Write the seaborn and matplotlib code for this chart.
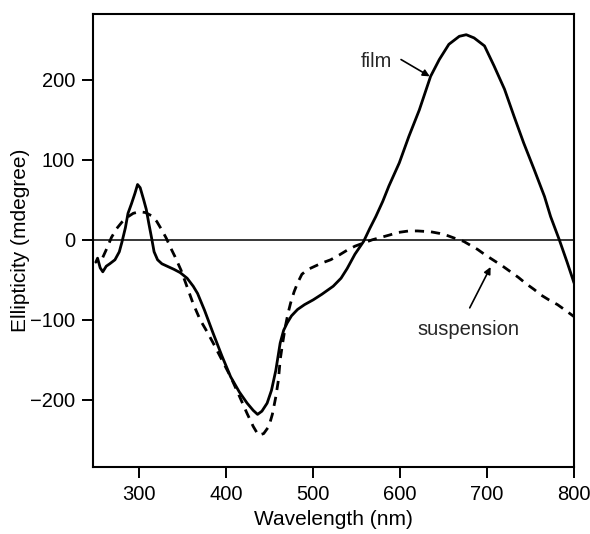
import matplotlib
matplotlib.use("Agg")
import matplotlib.pyplot as plt
import seaborn as sns
import pandas as pd

# CD spectra: ellipticity of the film and of the suspension
film_nm = [250, 252, 255, 258, 262, 266, 272, 277, 280, 284, 287, 291, 295, 298,
           301, 305, 308, 311, 314, 317, 321, 326, 332, 340, 347, 355, 362, 367,
           375, 385, 395, 405, 415, 424, 431, 436, 441, 447, 452, 457, 462, 466,
           470, 475, 482, 490, 500, 510, 523, 532, 539, 548, 558, 565, 572, 580,
           587, 599, 610, 622, 635, 645, 656, 668, 676, 685, 697, 708, 720, 731,
           742, 754, 766, 773, 783, 792, 800]
film_mdeg = [-28, -23, -35, -40, -33, -30, -25, -15, -3, 15, 33, 45, 58, 69,
             65, 50, 38, 20, 3, -15, -25, -30, -33, -37, -41, -48, -58, -67,
             -88, -117, -145, -171, -190, -204, -213, -218, -214, -204, -188, -163, -129, -113,
             -104, -95, -87, -81, -75, -68, -58, -48, -36, -18, -2, 14, 29, 48,
             67, 96, 129, 162, 204, 225, 244, 254, 256, 252, 242, 217, 188, 154,
             121, 88, 54, 29, 0, -28, -54]

susp_nm = [258, 263, 268, 274, 280, 286, 293, 300, 307, 314, 320, 326, 331, 336,
           341, 348, 355, 362, 370, 378, 385, 395, 405, 415, 424, 431, 437, 443,
           449, 453, 457, 460, 462, 465, 468, 471, 474, 478, 482, 487, 494, 500,
           510, 520, 530, 539, 548, 558, 568, 578, 588, 597, 610, 620, 635, 645,
           655, 665, 673, 681, 689, 698, 708, 718, 727, 736, 745, 754, 762, 771,
           781, 790, 800]
susp_mdeg = [-22, -10, 3, 14, 22, 28, 33, 35, 34, 30, 23, 12, 2, -10,
             -21, -38, -59, -80, -100, -115, -129, -150, -171, -195, -217, -233, -244, -242,
             -233, -218, -196, -175, -150, -128, -108, -92, -79, -65, -54, -43, -37, -34,
             -29, -25, -19, -13, -8, -4, 0, 3, 6, 9, 11, 11, 10, 8,
             5, 1, -2, -7, -12, -19, -26, -33, -40, -47, -55, -62, -69, -75,
             -81, -88, -96]

x_ticks = [300, 400, 500, 600, 700, 800]
y_ticks = [-200, -100, 0, 100, 200]

sns.set_theme(style="ticks")
plt.rcParams["font.family"] = ["Liberation Sans", "DejaVu Sans"]

film = pd.DataFrame({"nm": film_nm, "mdeg": film_mdeg})
susp = pd.DataFrame({"nm": susp_nm, "mdeg": susp_mdeg})

fig = plt.figure(figsize=(5.9, 5.34), dpi=100)
ax = fig.add_axes([0.158, 0.125, 0.815, 0.849])

ax.axhline(0, color="black", lw=1.1, zorder=1)
sns.lineplot(data=film, x="nm", y="mdeg", ax=ax, color="black", lw=2.0,
             sort=False, estimator=None)
sns.lineplot(data=susp, x="nm", y="mdeg", ax=ax, color="black", lw=2.0,
             sort=False, estimator=None, dashes=False)
ax.lines[-1].set_dashes((3.3, 2.5))

ax.set_xlim(247, 800)
ax.set_ylim(-284, 282)
ax.set_xticks(x_ticks)
ax.set_yticks(y_ticks)
ax.set_yticklabels(["\u2212200", "\u2212100", "0", "100", "200"])

for side in ["left", "right", "top", "bottom"]:
    ax.spines[side].set_visible(True)
    ax.spines[side].set_color("black")
    ax.spines[side].set_linewidth(1.5)

ax.tick_params(axis="both", direction="out", length=8, width=1.4,
               colors="black", labelsize=14.5, pad=5,
               top=False, right=False)
ax.set_xlabel("Wavelength (nm)", fontsize=15, color="black", labelpad=4)
ax.set_ylabel("Ellipticity (mdegree)", fontsize=15, color="black", labelpad=0)

# labelled arrows pointing at each curve
arrow = dict(arrowstyle="-|>", color="black", lw=1.2,
             mutation_scale=10, shrinkA=0, shrinkB=0)
ax.annotate("", xy=(634, 204), xytext=(601, 225), arrowprops=arrow)
ax.text(573, 223, "film", ha="center", va="center", fontsize=14.5)
ax.annotate("", xy=(704, -34), xytext=(680, -85), arrowprops=arrow)
ax.text(678, -112, "suspension", ha="center", va="center", fontsize=14.5)

fig.savefig("out.png", dpi=100)
